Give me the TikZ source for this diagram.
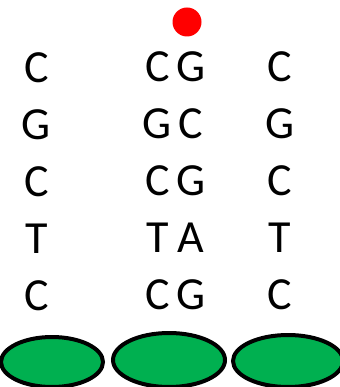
\documentclass[tikz,border=0pt]{standalone}
\usepackage{fontspec}
\setmainfont{Carlito}
\usepackage{xcolor}
\usetikzlibrary{shapes.geometric}
\definecolor{cellgreen}{HTML}{00B050}
\definecolor{dotred}{HTML}{FF0000}
\tikzset{
  base/.style={inner sep=0pt,font=\fontsize{46}{50}\selectfont},
  cell/.style={ellipse,draw=black,fill=cellgreen,line width=4pt,inner sep=0pt},
  mark dot/.style={circle,fill=dotred,inner sep=0pt,minimum size=29pt},
}
\begin{document}
\begin{tikzpicture}[x=1pt,y=-1pt]
  \useasboundingbox (0,0) rectangle (339,387);
  % red marker over the middle strand
  \node[mark dot] (dot) at (187,22) {};
  % left single strand
  \foreach \b [count=\i] in {C,G,C,T,C}
    \node[base] (l\i) at (36.5,11+57*\i) {\b};
  % middle double strand
  \foreach \b/\p [count=\i] in {C/G,G/C,C/G,T/A,C/G}{
    \node[base] (ma\i) at (157.5,10+57*\i) {\b};
    \node[base] (mb\i) at (191,10+57*\i) {\p};
  }
  % right single strand
  \foreach \b [count=\i] in {C,G,C,T,C}
    \node[base] (r\i) at (280,10+57*\i) {\b};
  % cells
  \node[cell,minimum width=102pt,minimum height=50pt] (cl) at (52,362) {};
  \node[cell,minimum width=112pt,minimum height=54pt] (cm) at (169,360) {};
  \node[cell,minimum width=110pt,minimum height=52pt] (cr) at (288,361) {};
\end{tikzpicture}
\end{document}
